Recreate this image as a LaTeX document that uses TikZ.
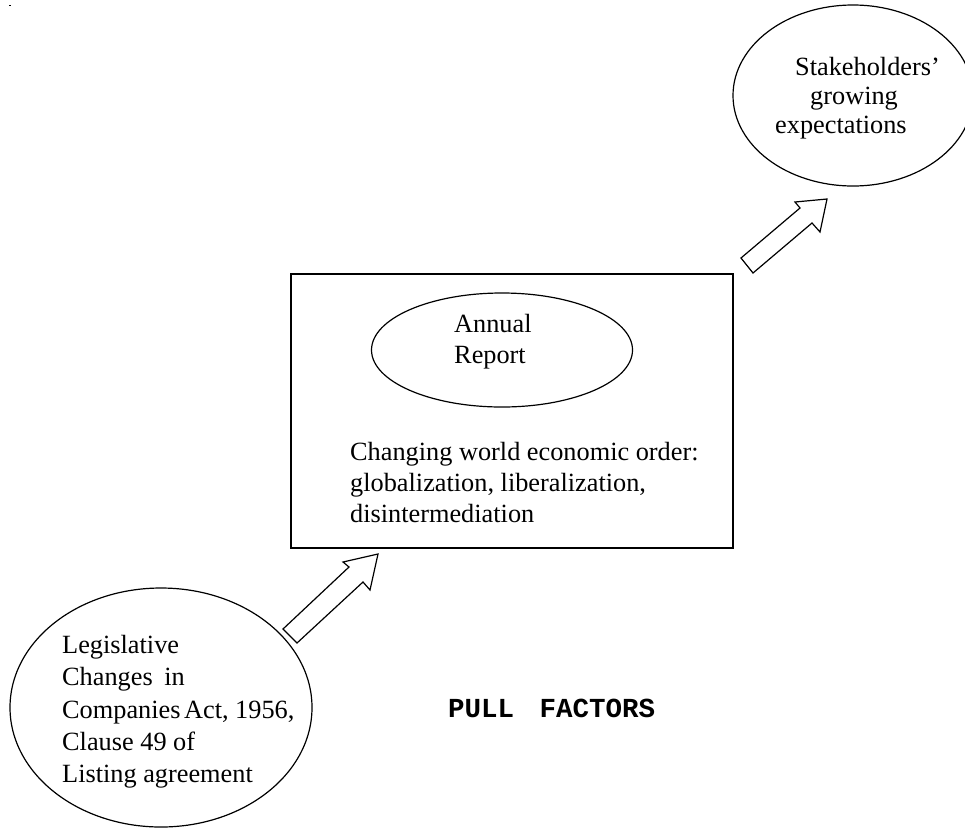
\documentclass[tikz,border=0pt]{standalone}
\usepackage{fontspec}
\setmainfont{Liberation Serif}
\newfontfamily\pullfont{Liberation Mono}
\usetikzlibrary{shapes.geometric}

\tikzset{
  outline/.style={draw=black, line width=1.2pt},
  oval/.style={outline, ellipse, inner sep=0pt},
  blockarrow/.style={outline, fill=white, line join=miter},
  txt/.style={anchor=base west, inner sep=0pt, font=\fontsize{26.3}{31}\selectfont},
  pull/.style={anchor=base west, inner sep=0pt, font=\pullfont\bfseries\fontsize{27.5}{31}\selectfont}
}

\begin{document}
\begin{tikzpicture}[x=1pt, y=-1pt]
  \useasboundingbox (0,0) rectangle (965,828);
  \clip (0,0) rectangle (965,828);

  % small mark in the upper left corner
  \draw[line width=1pt] (9,5) -- (11,5);

  % central box with the annual report
  \node[outline, minimum width=442pt, minimum height=274pt, inner sep=0pt] (box) at (512,411) {};
  \node[oval, minimum width=261pt, minimum height=114pt] (annual) at (502,350) {};
  \node[txt] (an1) at (454,332) {Annual};
  \node[txt] (an2) at (454,363) {Report};
  \node[txt] (ch1) at (350,460) {Changing world economic order:};
  \node[txt] (ch2) at (350,491) {globalization, liberalization,};
  \node[txt] (ch3) at (350,522) {disintermediation};

  % stakeholders
  \node[oval, minimum width=240pt, minimum height=181pt] (stake) at (853,95.5) {};
  \node[txt] (st1) at (795,75) {Stakeholders'};
  \node[txt] (st2) at (810,104) {growing};
  \node[txt] (st3) at (775,133) {expectations};

  % legislative changes
  \node[oval, minimum width=302pt, minimum height=239pt] (legis) at (161,707.5) {};
  \node[txt] (lg1) at (62,653) {Legislative};
  \node[txt] (lg2) at (62,685) {Changes\hspace{5pt} in};
  \node[txt] (lg3) at (62,718) {Companies\hspace{-3pt} Act, 1956,};
  \node[txt] (lg4) at (62,750) {Clause 49 of};
  \node[txt] (lg5) at (62,782) {Listing agreement};

  \node[pull] (pf) at (448,717) {PULL\hspace{9pt} FACTORS};

  % block arrows: legislative changes -> box -> stakeholders
  \draw[blockarrow] (283,629) -- (349,567) -- (343,562) -- (378,554)
                    -- (370,590) -- (363,582) -- (297,643) -- cycle;
  \draw[blockarrow] (741,258) -- (800,208) -- (795,202) -- (827,199)
                    -- (820,232) -- (812,223) -- (753,273) -- cycle;
\end{tikzpicture}
\end{document}
